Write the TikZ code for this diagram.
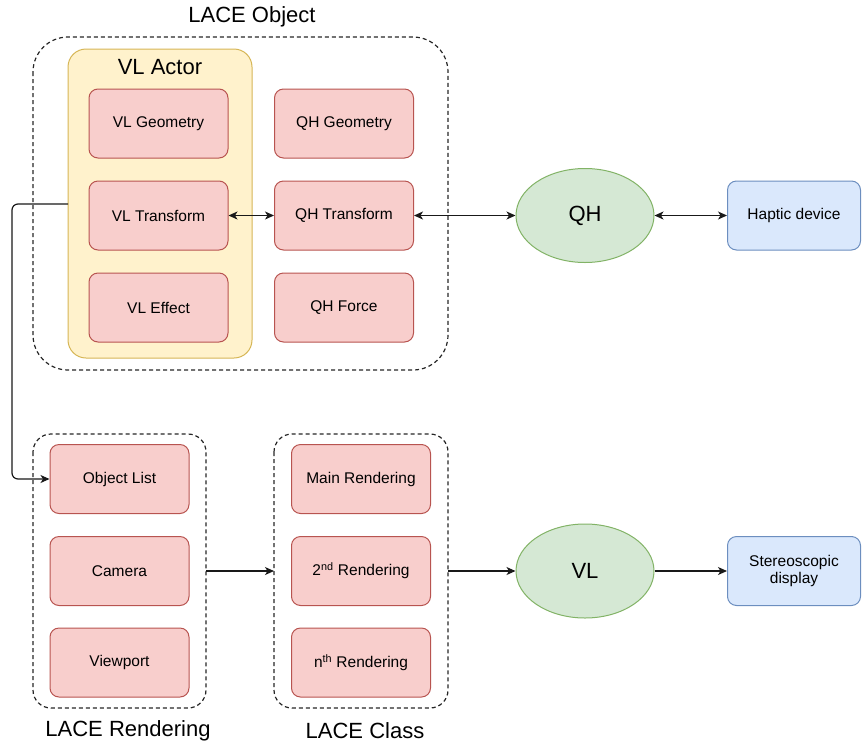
\documentclass[tikz,border=0pt]{standalone}
\usepackage{fontspec}
\setmainfont{Liberation Sans}
\usetikzlibrary{arrows.meta,shapes.geometric,positioning}

\definecolor{pinkfill}{HTML}{F8CECC}
\definecolor{pinkline}{HTML}{B85450}
\definecolor{yellowfill}{HTML}{FFF2CC}
\definecolor{yellowline}{HTML}{D6B656}
\definecolor{greenfill}{HTML}{D5E8D4}
\definecolor{greenline}{HTML}{82B366}
\definecolor{bluefill}{HTML}{DAE8FC}
\definecolor{blueline}{HTML}{6C8EBF}

\tikzset{
  item/.style={draw=pinkline, fill=pinkfill, line width=1pt, rounded corners=9pt,
    minimum width=139pt, minimum height=69pt, inner sep=0pt,
    font=\fontsize{15.5}{18}\selectfont},
  device/.style={draw=blueline, fill=bluefill, line width=1pt, rounded corners=9pt,
    minimum width=133pt, minimum height=69pt, inner sep=0pt, align=center,
    font=\fontsize{15.5}{18}\selectfont},
  lib/.style={ellipse, draw=greenline, fill=greenfill, line width=1pt,
    minimum width=138pt, minimum height=94pt, inner sep=0pt,
    font=\fontsize{22}{26}\selectfont},
  group/.style={draw=black!85, line width=1.2pt, dash pattern=on 4pt off 3pt},
  title/.style={font=\fontsize{22}{26}\selectfont},
  link/.style={line width=1.2pt, draw=black!90,
    -{Stealth[length=9pt,width=8pt,inset=2.5pt]}},
  dlink/.style={line width=1.2pt, draw=black!90,
    {Stealth[length=9pt,width=8pt,inset=2.5pt]}-{Stealth[length=9pt,width=8pt,inset=2.5pt]}},
}

\begin{document}
\begin{tikzpicture}[x=1pt,y=-1pt]
  \useasboundingbox (0,0) rectangle (862,745);

  % LACE Object group
  \draw[group, rounded corners=35pt] (33,37) rectangle (448,370);
  \node[title] (objtitle) at (252,17) {LACE Object};

  % VL Actor container
  \draw[draw=yellowline, fill=yellowfill, line width=1pt, rounded corners=18pt]
    (68,49) rectangle (252,358);
  \coordinate (actorwest) at (68,204);
  \node[title] (actortitle) at (160,67) {VL Actor};

  \node[item] (vlgeo) at (158.5,123.5) {VL Geometry};
  \node[item] (vltr)  at (158.5,215.5) {VL Transform};
  \node[item] (vleff) at (158.5,307.5) {VL Effect};

  \node[item] (qhgeo) at (344,123.5) {QH Geometry};
  \node[item] (qhtr)  at (344,215.5) {QH Transform};
  \node[item] (qhf)   at (344,307.5) {QH Force};

  \node[lib] (qh) at (585,215.5) {QH};
  \node[device] (haptic) at (794,215.5) {Haptic device};

  % LACE Rendering group
  \draw[group, rounded corners=18pt] (33,434) rectangle (206,708);
  \coordinate (rendeast) at (206,571);
  \node[title] (rendtitle) at (128,731) {LACE Rendering};
  \node[item] (objlist)  at (119.5,479) {Object List};
  \node[item] (camera)   at (119.5,571) {Camera};
  \node[item] (viewport) at (119.5,662.5) {Viewport};

  % LACE Class group
  \draw[group, rounded corners=18pt] (274,434) rectangle (448,708);
  \coordinate (classwest) at (274,571);
  \coordinate (classeast) at (448,571);
  \node[title] (classtitle) at (365,731) {LACE Class};
  \node[item] (mainr) at (361,479) {Main Rendering};
  \node[item] (secr)  at (361,571) {2\textsuperscript{nd} Rendering};
  \node[item] (nthr)  at (361,662.5) {n\textsuperscript{th} Rendering};

  \node[lib] (vl) at (585,571) {VL};
  \node[device] (stereo) at (794,571) {Stereoscopic\\[-1pt]display};

  % connectors
  \draw[dlink] (vltr.east) -- (qhtr.west);
  \draw[dlink] (qhtr.east) -- (qh.west);
  \draw[dlink] (qh.east) -- (haptic.west);
  \draw[link, rounded corners=6pt] (actorwest) -- (12,204) -- (12,479) -- (objlist.west);
  \draw[link] (rendeast) -- (classwest);
  \draw[link] (classeast) -- (vl.west);
  \draw[link] (vl.east) -- (stereo.west);
\end{tikzpicture}
\end{document}
